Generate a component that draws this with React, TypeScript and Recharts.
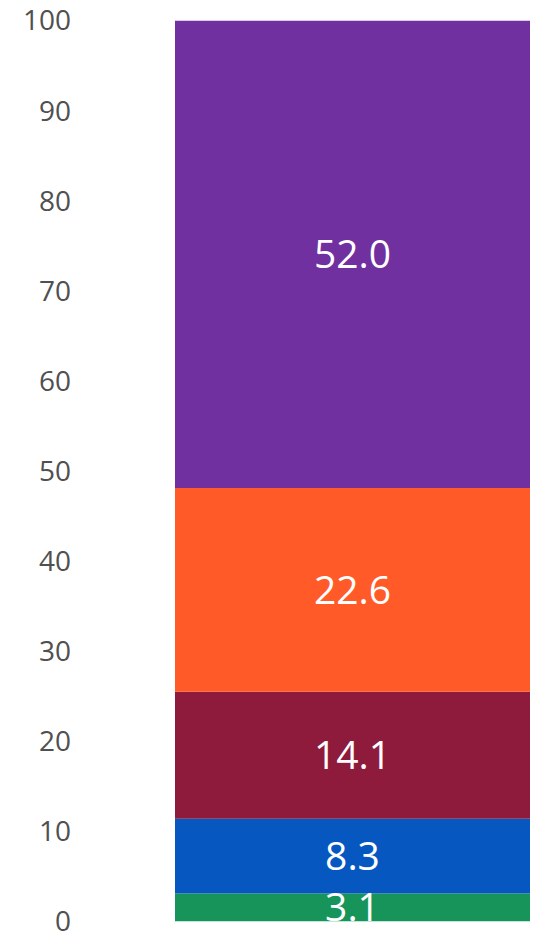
import { BarChart, Bar, YAxis, XAxis, LabelList } from "recharts";

// stack order: bottom to top
const segments = ["green", "blue", "crimson", "orange", "purple"];
const values = [3.1, 8.3, 14.1, 22.6, 52.0];
const colors = ["#16945A", "#0658C0", "#8E1A3C", "#FF5A28", "#7030A0"];
const yTicks = [0, 10, 20, 30, 40, 50, 60, 70, 80, 90, 100];

const row: Record<string, number | string> = { name: "total" };
segments.forEach((s, i) => {
  row[s] = values[i];
});
const data = [row];

export default function App() {
  return (
    <div style={{ fontFamily: "'Open Sans', sans-serif", marginTop: -8 }}>
      <BarChart
        width={531}
        height={938}
        data={data}
        barCategoryGap={0}
        margin={{ top: 20.5, right: 9, left: 0, bottom: 16.5 }}
      >
        <XAxis dataKey="name" hide />
        <YAxis
          type="number"
          domain={[0, 100]}
          ticks={yTicks}
          allowDataOverflow
          width={167}
          axisLine={false}
          tickLine={false}
          tickSize={0}
          tickMargin={104}
          tick={{ fill: "#505050", fontSize: 28, fontFamily: "'Open Sans', sans-serif" }}
        />
        {segments.map((s, i) => (
          <Bar key={s} dataKey={s} stackId="a" fill={colors[i]} isAnimationActive={false}>
            <LabelList
              dataKey={s}
              position="center"
              formatter={(v: any) => Number(v).toFixed(1)}
              fill="#ffffff"
              fontSize={39}
              fontFamily="'Open Sans', sans-serif"
            />
          </Bar>
        ))}
      </BarChart>
    </div>
  );
}
